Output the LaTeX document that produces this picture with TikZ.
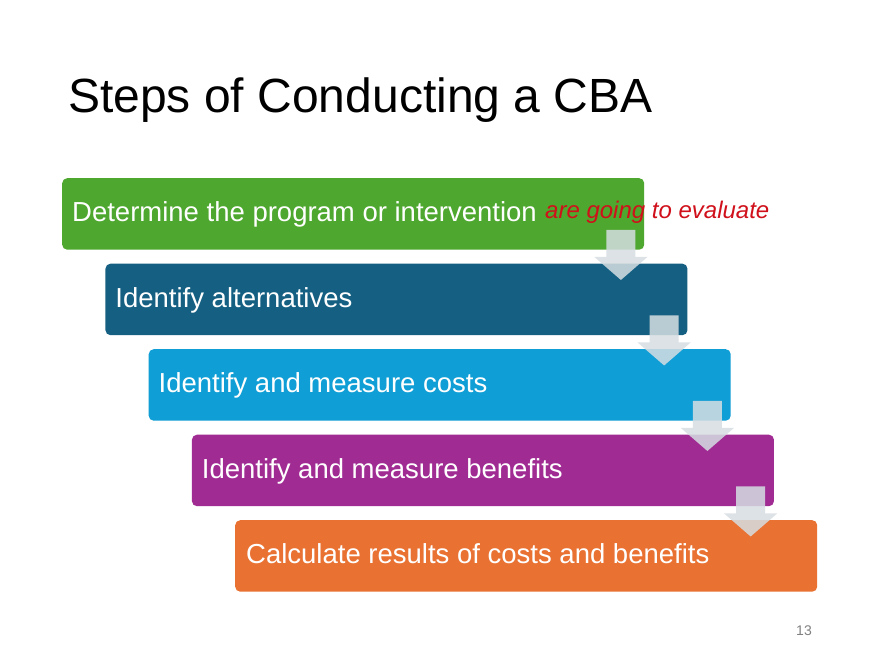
\documentclass[tikz,border=0pt]{standalone}
\usepackage{fontspec}
\setmainfont{Liberation Sans}
\usetikzlibrary{calc}
\definecolor{cgreen}{HTML}{4EA72E}
\definecolor{cdblue}{HTML}{156082}
\definecolor{clblue}{HTML}{0F9ED5}
\definecolor{cpurple}{HTML}{A02B93}
\definecolor{corange}{HTML}{E97132}
\definecolor{arrowfill}{HTML}{D6DEE2}
\definecolor{inkred}{HTML}{D0101A}
\begin{document}
\begin{tikzpicture}[x=1pt,y=1pt,
  stepbox/.style={rounded corners=5pt, minimum width=582pt, minimum height=71.5pt, anchor=north west, inner sep=0pt, draw=none},
  steptext/.style={text=white, font=\fontsize{27.5}{30}\selectfont, anchor=base west, inner sep=0pt},
  downarrow/.style={fill=arrowfill, fill opacity=0.85, draw=none}]
\useasboundingbox (0,0) rectangle (880,660);
\fill[white] (0,0) rectangle (880,660);
% title
\node[anchor=base west, inner sep=0pt, font=\fontsize{48}{56}\selectfont] (title) at (68,547) {Steps of Conducting a CBA};
% boxes
\node[stepbox, fill=cgreen]   (b1) at (62,482) {};
\node[stepbox, fill=cdblue]   (b2) at (105.25,396.5) {};
\node[stepbox, fill=clblue]   (b3) at (148.5,311) {};
\node[stepbox, fill=cpurple]  (b4) at (191.75,225.5) {};
\node[stepbox, fill=corange]  (b5) at (235,140) {};
% texts
\node[steptext] (t1) at ($(b1.west)+(10,-8)$) {Determine the program or intervention};
\node[steptext] (t2) at ($(b2.west)+(10,-8)$) {Identify alternatives};
\node[steptext] (t3) at ($(b3.west)+(10,-8)$) {Identify and measure costs};
\node[steptext] (t4) at ($(b4.west)+(10,-8)$) {Identify and measure benefits};
\node[steptext] (t5) at ($(b5.west)+(11,-8)$) {Calculate results of costs and benefits};
% arrows
\foreach \b in {b1,b2,b3,b4}{
  \coordinate (at\b) at ($(\b.north east)+(-23.5,-52)$);
  \fill[downarrow] ($(at\b)+(-14.5,0)$) -- ($(at\b)+(14.5,0)$) -- ($(at\b)+(14.5,-27)$) -- ($(at\b)+(26.5,-27)$) -- ($(at\b)+(0,-50)$) -- ($(at\b)+(-26.5,-27)$) -- ($(at\b)+(-14.5,-27)$) -- cycle;
}
% handwriting
\node[anchor=base west, inner sep=0pt, text=inkred, font=\fontsize{24}{26}\selectfont\itshape] (hw) at (545,441) {are going to evaluate};
% page number
\node[anchor=base east, inner sep=0pt, text=gray, font=\fontsize{14}{16}\selectfont] (pg) at (812,24) {13};
\end{tikzpicture}
\end{document}
